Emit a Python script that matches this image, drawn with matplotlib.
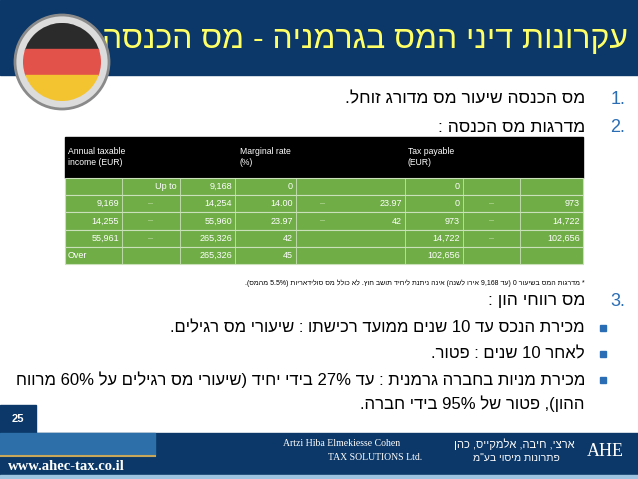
import re
import matplotlib
matplotlib.use("Agg")
import matplotlib.pyplot as plt
from matplotlib.patches import Rectangle, Circle

plt.rcParams["font.family"] = "Liberation Sans"

# table data
header = ["Annual taxable\nincome (EUR)", "Marginal rate\n(%)", "Tax payable\n(EUR)"]
income_lo = ["", "9,169", "14,255", "55,961", "Over"]
income_mid = ["Up to", "–", "–", "–", ""]
income_hi = ["9,168", "14,254", "55,960", "265,326", "265,326"]
rate_lo = ["0", "14.00", "23.97", "42", "45"]
rate_mid = ["", "–", "–", "", ""]
rate_hi = ["", "23.97", "42", "", ""]
tax_lo = ["0", "0", "973", "14,722", "102,656"]
tax_mid = ["", "–", "–", "–", ""]
tax_hi = ["", "973", "14,722", "102,656", ""]

title = "עקרונות דיני המס בגרמניה - מס הכנסה"
item1 = "מס הכנסה שיעור מס מדורג זוחל."
item2 = "מדרגות מס הכנסה :"
note = "* מדרגות המס בשיעור 0 (עד 9,168 אירו לשנה) אינה ניתנת ליחיד תושב חוץ. לא כולל מס סולידאריות (5.5% מהמס)."
item3 = "מס רווחי הון :"
bullets = ["מכירת הנכס עד 10 שנים ממועד רכישתו : שיעורי מס רגילים.",
           "לאחר 10 שנים : פטור.",
           "מכירת מניות בחברה גרמנית : עד 27% בידי יחיד (שיעורי מס רגילים על 60% מרווח"]
bullet_cont = "ההון), פטור של 95% בידי חברה."


def rtl(s):
    r = s[::-1]
    r = re.sub(r"[0-9A-Za-z.,%]+", lambda m: m.group(0)[::-1], r)
    return r.translate(str.maketrans("()", ")("))


fig = plt.figure(figsize=(6.38, 4.79), dpi=100)
ax = fig.add_axes([0, 0, 1, 1])
ax.set_xlim(0, 638)
ax.set_ylim(479, 0)
ax.axis("off")

navy = "#0b3868"
blue = "#2a6db5"

# title band
ax.add_patch(Rectangle((0, 0), 638, 75, color=navy))
ax.text(628, 40, rtl(title), ha="right", va="center", color="#ffff66", fontsize=23)

# flag
ax.add_patch(Circle((62, 62), 47, color="#dcdcdc", ec="#8a8a8a", lw=2, zorder=3))
clip = Circle((62, 62), 39, transform=ax.transData)
for i, c in enumerate(["#2b2b2b", "#e2514a", "#f4c430"]):
    r = Rectangle((20, 23 + i * 26), 85, 26, color=c, zorder=4)
    ax.add_patch(r)
    r.set_clip_path(clip)

# numbered items
ax.text(625, 99, "1.", ha="right", va="center", color=blue, fontsize=13)
ax.text(585, 99, rtl(item1), ha="right", va="center", fontsize=12.5)
ax.text(625, 127, "2.", ha="right", va="center", color=blue, fontsize=13)
ax.text(585, 127, rtl(item2), ha="right", va="center", fontsize=12.5)

# table
xs = [65, 122, 180, 235, 296, 350, 405, 463, 520, 583]
ax.add_patch(Rectangle((65, 137), 518, 41, color="black"))
for x, h in zip([68, 240, 408], header):
    ax.text(x, 157, h, ha="left", va="center", color="white", fontsize=6.2, linespacing=1.4)
rh = 17.2
cols = [income_lo, income_mid, income_hi, rate_lo, rate_mid, rate_hi, tax_lo, tax_mid, tax_hi]
for i in range(len(rate_lo)):
    y0 = 178 + i * rh
    ax.add_patch(Rectangle((65, y0), 518, rh, color="#70ad47", ec="#c9e0b8", lw=0.8))
    for j, col in enumerate(cols):
        txt = col[i]
        if not txt:
            continue
        if txt == "Over":
            ax.text(xs[0] + 3, y0 + rh / 2, txt, ha="left", va="center", color="white", fontsize=6.5)
        elif txt == "–":
            ax.text((xs[j] + xs[j + 1]) / 2, y0 + rh / 2, txt, ha="center", va="center",
                    color="#b7d99c", fontsize=6.5)
        else:
            ax.text(xs[j + 1] - 3, y0 + rh / 2, txt, ha="right", va="center", color="white", fontsize=6.5)
    for j in range(1, 9):
        if j == 5:
            continue
        ax.plot([xs[j], xs[j]], [y0, y0 + rh], color="#c9e0b8", lw=0.6)

ax.text(585, 283, rtl(note), ha="right", va="center", fontsize=5)

ax.text(625, 301, "3.", ha="right", va="center", color=blue, fontsize=13)
ax.text(585, 301, rtl(item3), ha="right", va="center", fontsize=12.5)
for k, b in enumerate(bullets):
    y = 328 + k * 26
    ax.add_patch(Rectangle((600, y - 3), 6, 6, color=blue))
    ax.text(585, y, rtl(b), ha="right", va="center", fontsize=12)
ax.text(585, 404, rtl(bullet_cont), ha="right", va="center", fontsize=12)

# footer
ax.add_patch(Rectangle((0, 405), 36, 28, color=navy))
ax.text(18, 419, "25", ha="center", va="center", color="white", fontsize=8, fontweight="bold")
ax.add_patch(Rectangle((0, 433), 638, 42, color=navy))
ax.add_patch(Rectangle((0, 433), 155, 22, color="#2d6fa8"))
ax.plot([0, 155], [456, 456], color="#c9a75a", lw=1.5)
ax.add_patch(Rectangle((0, 475), 638, 4, color="#9ec3e0"))
ax.text(8, 466, "www.ahec-tax.co.il", ha="left", va="center", color="white",
        fontsize=10.5, fontweight="bold", family="Liberation Serif")
ax.text(400, 444, "Artzi Hiba Elmekiesse Cohen", ha="right", va="center", color="white",
        fontsize=7, family="Liberation Serif")
ax.text(375, 458, "TAX SOLUTIONS Ltd.", ha="center", va="center", color="white",
        fontsize=7, family="Liberation Serif")
ax.text(575, 444, rtl("ארצי, חיבה, אלמקייס, כהן"), ha="right", va="center", color="white", fontsize=8)
ax.text(560, 458, rtl("פתרונות מיסוי בע\"מ"), ha="right", va="center", color="white", fontsize=7.5)
ax.text(605, 452, "AHE", ha="center", va="center", color="white", fontsize=13, family="Liberation Serif")

fig.savefig("out.png", dpi=100)
